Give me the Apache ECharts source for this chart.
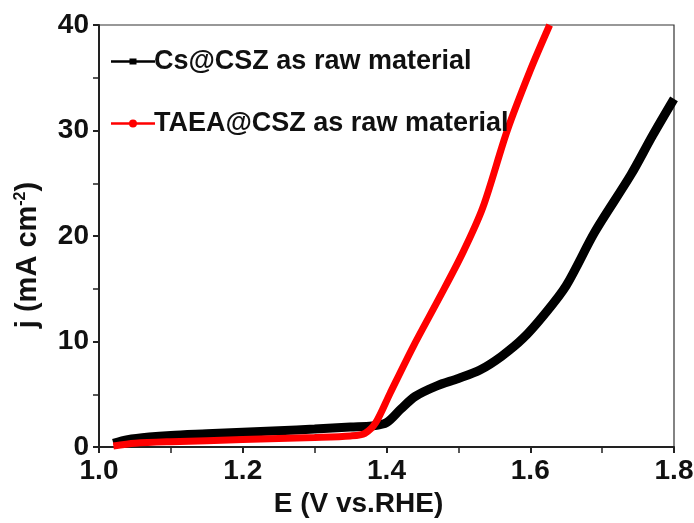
<!DOCTYPE html>
<html>
<head>
<meta charset="utf-8">
<script src="https://cdn.jsdelivr.net/npm/echarts@6/dist/echarts.min.js"></script>
<style>html,body{margin:0;padding:0;background:#fff}#c{width:694px;height:523px}</style>
</head>
<body>
<div id="c"></div>
<script>
const seriesNames = ['Cs@CSZ as raw material', 'TAEA@CSZ as raw material'];
const csPotential = [1.02,1.04,1.07,1.10,1.15,1.20,1.25,1.30,1.35,1.38,1.40,1.42,1.44,1.47,1.50,1.53,1.56,1.59,1.62,1.65,1.69,1.74,1.77,1.80];
const csCurrent   = [0.35,0.7,0.95,1.1,1.25,1.4,1.55,1.7,1.9,2.0,2.3,3.6,4.8,5.8,6.5,7.3,8.6,10.3,12.6,15.3,20.4,25.8,29.5,33.0];
const taeaPotential = [1.02,1.05,1.10,1.20,1.30,1.35,1.37,1.385,1.405,1.437,1.474,1.506,1.534,1.568,1.60,1.627];
const taeaCurrent   = [0.1,0.35,0.5,0.7,0.9,1.05,1.3,2.3,5.1,9.5,14.2,18.4,22.7,30.0,35.7,40.0];
const xTicks = [1.0, 1.2, 1.4, 1.6, 1.8];
const yTicks = [0, 10, 20, 30, 40];

const zip = (a, b) => a.map((v, i) => [v, b[i]]);
const font = 'Liberation Sans, Arial, sans-serif';
const chart = echarts.init(document.getElementById('c'));
chart.setOption({
  animation: false,
  backgroundColor: '#fff',
  grid: { left: 99, right: 20, top: 25, bottom: 76, containLabel: false, outerBoundsMode: 'none',
          show: true, borderColor: '#333', borderWidth: 1.2, backgroundColor: 'transparent' },
  legend: {
    orient: 'vertical', left: 106, top: 43, itemGap: 35,
    itemWidth: 44, itemHeight: 9,
    textStyle: { fontFamily: font, fontWeight: 'bold', fontSize: 27, color: '#111', padding: [0,0,0,-6] },
    data: [
      { name: seriesNames[0], icon: 'path://M0,3.3H44V5.7H0Z M18.5,1.5H25.5V7.5H18.5Z', itemStyle: { color: '#000' } },
      { name: seriesNames[1], icon: 'path://M0,3.3H44V5.7H0Z M22,0.5A4,4 0 1,1 21.99,0.5Z', itemStyle: { color: '#f00' } }
    ]
  },
  xAxis: {
    type: 'value', min: xTicks[0], max: xTicks[xTicks.length - 1], interval: 0.2,
    name: 'E (V vs.RHE)', nameLocation: 'middle', nameGap: 37,
    nameTextStyle: { fontFamily: font, fontWeight: 'bold', fontSize: 28, color: '#111', padding: [0, 56, 0, 0] },
    axisLine: { lineStyle: { color: '#222', width: 2 } },
    axisTick: { inside: false, length: 6, lineStyle: { width: 2, color: '#222' } },
    minorTick: { show: true, splitNumber: 2, length: 6, lineStyle: { width: 1.5, color: '#222' } },
    splitLine: { show: false },
    axisLabel: { fontFamily: font, fontWeight: 'bold', fontSize: 28, color: '#111', margin: 10, formatter: v => v.toFixed(1) }
  },
  yAxis: {
    type: 'value', min: yTicks[0], max: yTicks[yTicks.length - 1], interval: 10,
    name: '{a|j (mA cm}{s|-2}{a|)}', nameLocation: 'middle', nameGap: 57,
    nameTextStyle: { padding: [0, 38, 0, 0], rich: {
      a: { fontFamily: font, fontWeight: 'bold', fontSize: 29, color: '#111' },
      s: { fontFamily: font, fontWeight: 'bold', fontSize: 16, color: '#111', verticalAlign: 'top', padding: [0,0,12,0] }
    } },
    axisLine: { lineStyle: { color: '#222', width: 2 } },
    axisTick: { inside: false, length: 6, lineStyle: { width: 2, color: '#222' } },
    minorTick: { show: true, splitNumber: 2, length: 6, lineStyle: { width: 1.5, color: '#222' } },
    splitLine: { show: false },
    axisLabel: { fontFamily: font, fontWeight: 'bold', fontSize: 28, color: '#111', margin: 10 }
  },
  series: [
    { name: seriesNames[0], type: 'line', data: zip(csPotential, csCurrent), smooth: 0.3,
      symbol: 'rect', showSymbol: false, color: '#000', lineStyle: { width: 9, color: '#000' }, z: 2 },
    { name: seriesNames[1], type: 'line', data: zip(taeaPotential, taeaCurrent), smooth: 0.3,
      symbol: 'circle', showSymbol: false, color: '#f00', lineStyle: { width: 7, color: '#f00' }, z: 3 }
  ]
});
</script>
</body>
</html>
